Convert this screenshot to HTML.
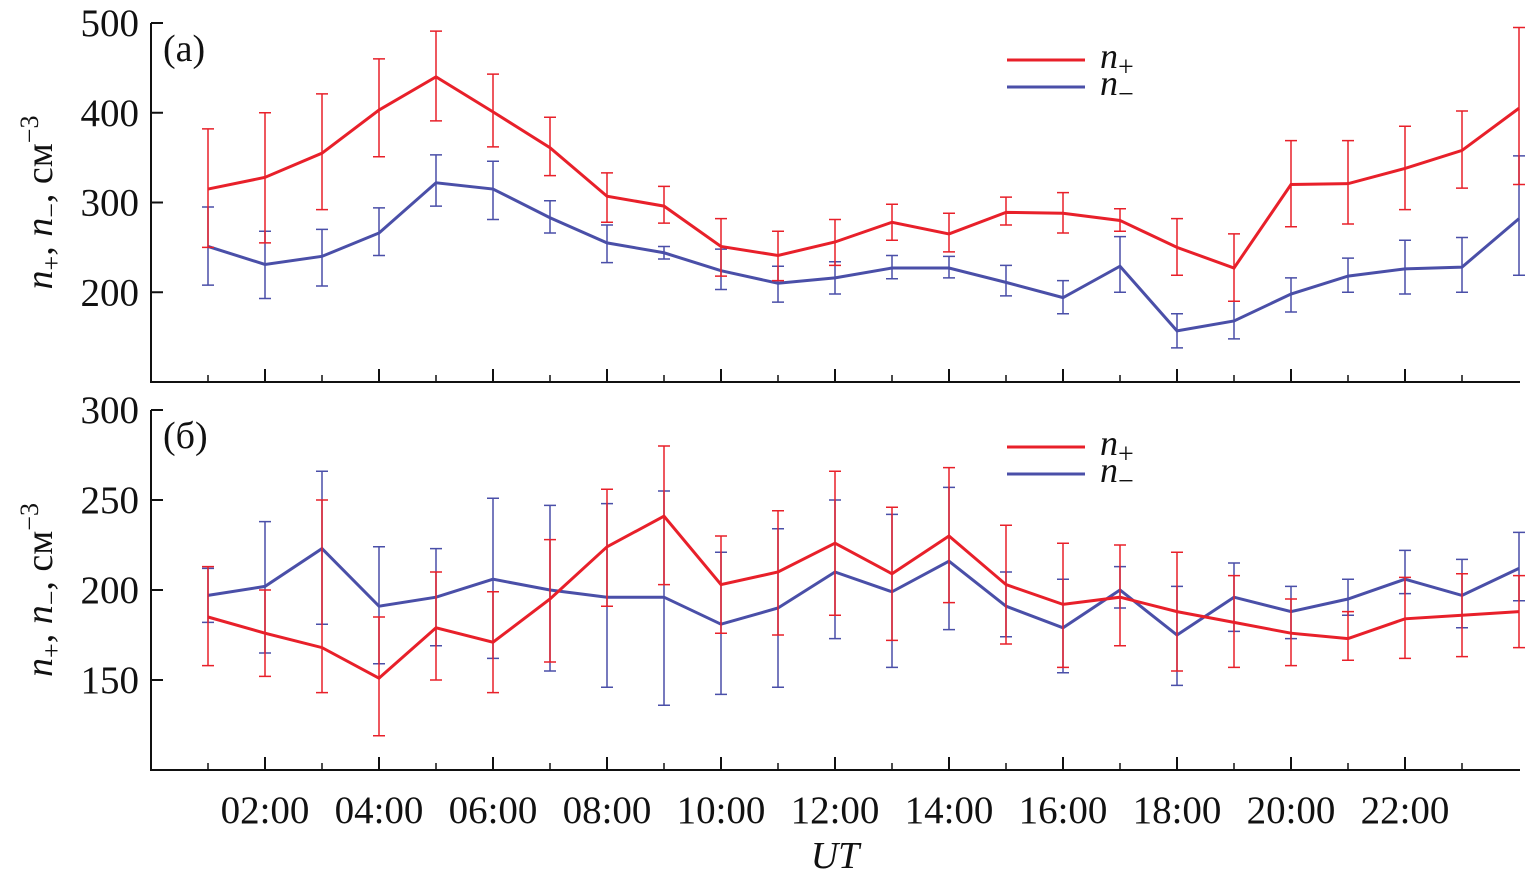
<!DOCTYPE html>
<html><head><meta charset="utf-8"><style>
body{margin:0;background:#fff}
svg text{font-family:"Liberation Serif",serif;fill:#111}
</style></head><body>
<svg id="c" width="1526" height="882" xmlns="http://www.w3.org/2000/svg"></svg>
<script>
const hours=[1,2,3,4,5,6,7,8,9,10,11,12,13,14,15,16,17,18,19,20,21,22,23,24];
const xTicks=["02:00","04:00","06:00","08:00","10:00","12:00","14:00","16:00","18:00","20:00","22:00"];
const aPos=[315,328,355,403,440,401,361,307,296,251,241,256,278,265,289,288,280,250,227,320,321,338,358,405];
const aPosHi=[382,400,421,460,491,443,395,333,318,282,268,281,298,288,306,311,293,282,265,369,369,385,402,495];
const aPosLo=[250,255,292,351,391,362,330,278,277,218,213,230,258,245,275,266,268,219,190,273,276,292,316,320];
const aNeg=[251,231,240,266,322,315,283,255,244,224,210,216,227,227,211,194,229,157,168,198,218,226,228,282];
const aNegHi=[295,268,270,294,353,346,302,275,251,248,229,234,241,240,230,213,262,176,190,216,238,258,261,352];
const aNegLo=[208,193,207,241,296,281,266,233,237,203,189,198,215,216,196,176,200,138,148,178,200,198,200,219];
const bPos=[185,176,168,151,179,171,195,224,241,203,210,226,209,230,203,192,196,188,182,176,173,184,186,188];
const bPosHi=[213,200,250,185,210,199,228,256,280,230,244,266,246,268,236,226,225,221,208,195,188,207,209,208];
const bPosLo=[158,152,143,119,150,143,160,191,203,176,175,186,172,193,170,157,169,155,157,158,161,162,163,168];
const bNeg=[197,202,223,191,196,206,200,196,196,181,190,210,199,216,191,179,200,175,196,188,195,206,197,212];
const bNegHi=[212,238,266,224,223,251,247,248,255,221,234,250,242,257,210,206,213,202,215,202,206,222,217,232];
const bNegLo=[182,165,181,159,169,162,155,146,136,142,146,173,157,178,174,154,190,147,177,173,186,198,179,194];
const aYTicks=[200,300,400,500];
const bYTicks=[150,200,250,300];
const svg=document.getElementById('c');
const NS="http://www.w3.org/2000/svg";
function el(t,a,p){const e=document.createElementNS(NS,t);for(const k in a)e.setAttribute(k,a[k]);(p||svg).appendChild(e);return e;}
const X0=151,X1=1520;
const xs=h=>X0+h*57;
const RED="#e8202a",BLUE="#4a4fa8";
function panel(name,top,bottom,vmin,vmax,yt,pos,ph,pl,neg,nh,nl,label,legY){
  const g=el('g',{});
  
  
  const ys=v=>bottom-(v-vmin)/(vmax-vmin)*(bottom-top);
  const ax=el('path',{d:`M${X0} ${top}V${bottom}H${X1}`,stroke:'#111','stroke-width':2,fill:'none'},g);
  
  
  for(let h=2;h<=22;h+=2){el('line',{x1:xs(h),x2:xs(h),y1:bottom,y2:bottom-13,stroke:'#111','stroke-width':2},g);}
  for(let h=1;h<=23;h+=2){el('line',{x1:xs(h),x2:xs(h),y1:bottom,y2:bottom-7,stroke:'#111','stroke-width':1.5},g);}
  yt.forEach(v=>{
    el('line',{x1:X0,x2:X0+12,y1:ys(v),y2:ys(v),stroke:'#111','stroke-width':2},g);
    const t=el('text',{x:X0-12,y:ys(v)+13,'text-anchor':'end','font-size':39},g);t.textContent=v;
    
    
  });
  function series(vals,hi,lo,col,sname){
    const sg=el('g',{},g);
    
    
    hours.forEach((h,i)=>{
      const x=xs(h);
      el('path',{d:`M${x} ${ys(hi[i])}V${ys(lo[i])}M${x-6} ${ys(hi[i])}h12M${x-6} ${ys(lo[i])}h12`,stroke:col,'stroke-width':1.5,fill:'none'},sg);
    });
    el('polyline',{points:hours.map((h,i)=>xs(h)+','+ys(vals[i])).join(' '),stroke:col,'stroke-width':3,fill:'none'},sg);
  }
  series(neg,nh,nl,BLUE,'n-minus-series');
  series(pos,ph,pl,RED,'n-plus-series');
  const pl2=el('text',{x:163,y:top+38,'font-size':38},g);pl2.textContent=label;
  
  
  const yl=el('text',{transform:`translate(52 ${(top+bottom)/2}) rotate(-90)`,'text-anchor':'middle','font-size':38},g);
  yl.innerHTML='<tspan font-style="italic">n</tspan><tspan font-size="26" dy="8">+</tspan><tspan dy="-8">, </tspan><tspan font-style="italic">n</tspan><tspan font-size="26" dy="8">−</tspan><tspan dy="-8">, см</tspan><tspan font-size="26" dy="-14">−3</tspan>';
  
  
  [[RED,'+',0],[BLUE,'−',27]].forEach(([c,s,d])=>{
    const lg=el('g',{},g);
    
    
    el('line',{x1:1007,x2:1085,y1:legY+d,y2:legY+d,stroke:c,'stroke-width':3},lg);
    const t=el('text',{x:1100,y:legY+d+8,'font-size':36},lg);
    t.innerHTML=`<tspan font-style="italic">n</tspan><tspan font-size="28" dy="8">${s}</tspan>`;
  });
}
panel('panel-a',23,382,100,500,aYTicks,aPos,aPosHi,aPosLo,aNeg,aNegHi,aNegLo,'(a)',60);
panel('panel-b',410,770,100,300,bYTicks,bPos,bPosHi,bPosLo,bNeg,bNegHi,bNegLo,'(б)',447);
xTicks.forEach((s,i)=>{
  const t=el('text',{x:xs(2+2*i),y:823,'text-anchor':'middle','font-size':39});t.textContent=s;
  
  
});
const ut=el('text',{x:835,y:868,'text-anchor':'middle','font-size':38,'font-style':'italic'});ut.textContent='UT';


</script>
</body></html>
